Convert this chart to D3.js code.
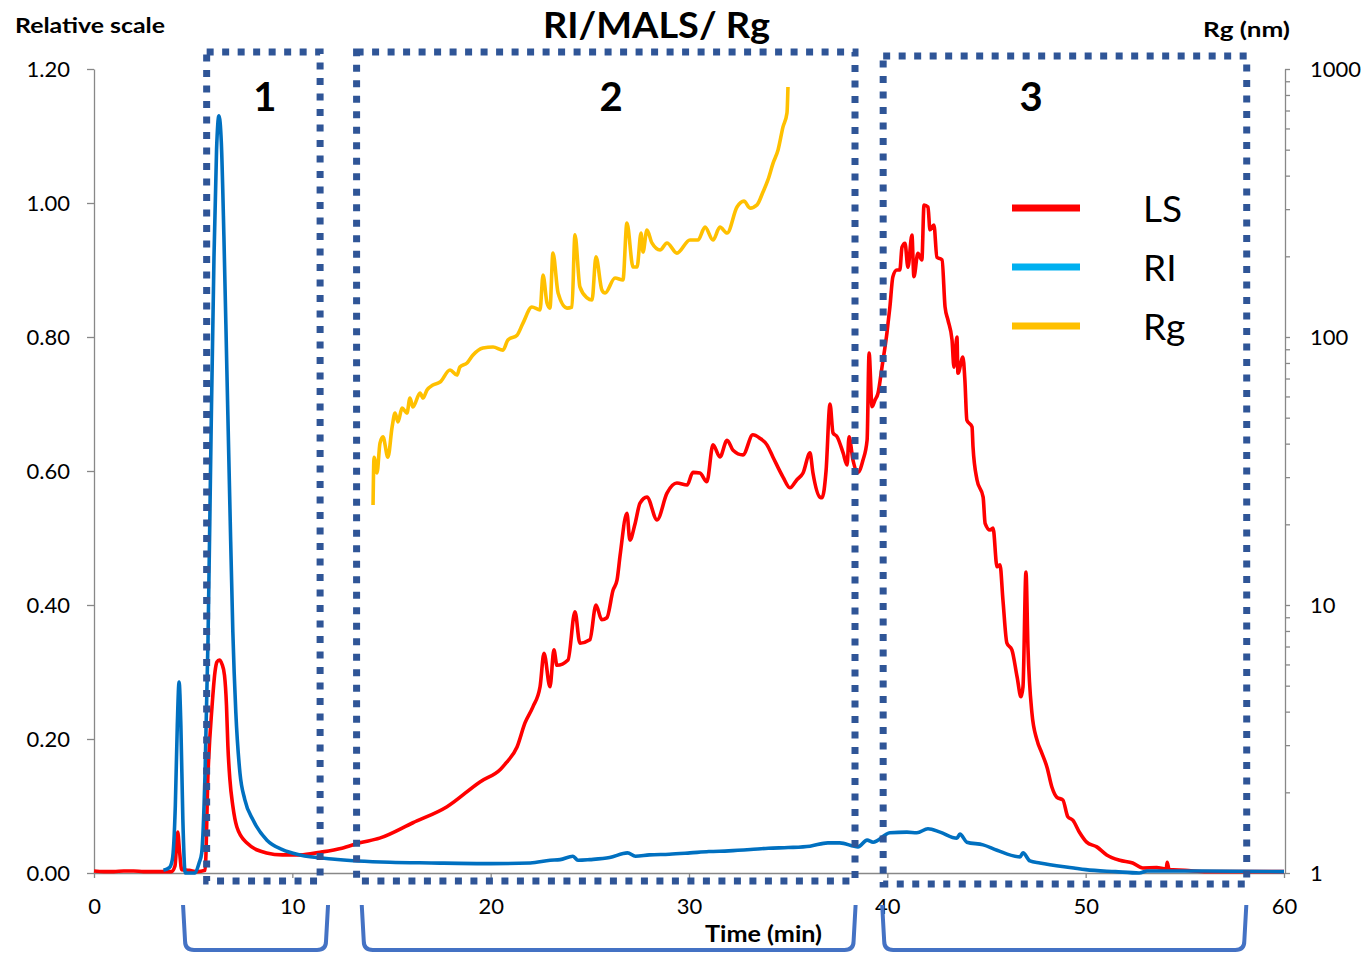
<!DOCTYPE html>
<html>
<head>
<meta charset="utf-8">
<script src="https://cdn.jsdelivr.net/npm/d3@7"></script>
<style>
  html, body { margin: 0; padding: 0; background: #fff; }
  svg { display: block; font-family: Lato, "Open Sans", "Liberation Sans", sans-serif; }
</style>
</head>
<body>
<svg id="chart" width="1365" height="953"></svg>
<script>
// ---------- DATA ----------
const xTicks = [0, 10, 20, 30, 40, 50, 60];
const yTicksLeft = [0, 0.2, 0.4, 0.6, 0.8, 1.0, 1.2];
const yTicksRightMajor = [1, 10, 100, 1000];

const seriesNames = ["LS", "RI", "Rg"];

// LS (light scattering), time (min) and relative value
const lsTime = [0,0.5,1,1.5,2,2.5,3,3.5,3.9,4.08,4.22,4.32,4.42,4.8,5.2,5.6,5.75,5.95,6.1,6.2,6.32,6.45,6.58,6.68,6.75,6.85,7.0,7.2,7.7,8.7,9.5,10.4,11.4,12.5,13.4,14.4,16.08,17.8,19.46,20.5,20.8,21.33,21.73,22.13,22.49,22.69,22.99,23.19,23.34,23.9,24.25,24.5,25.0,25.31,25.6,25.86,26.17,26.37,26.53,26.87,27.02,27.27,27.53,27.88,28.39,28.89,29.39,29.9,30.2,30.55,30.9,31.21,31.56,31.92,32.22,32.72,33.22,33.57,33.93,34.23,34.74,35.09,35.44,35.75,36.1,36.25,36.6,36.71,36.91,37.11,37.26,37.47,37.77,37.97,38.07,38.27,38.52,38.77,38.98,39.08,39.23,39.38,39.53,39.73,39.98,40.13,40.28,40.48,40.63,40.74,40.89,41.04,41.24,41.34,41.54,41.74,41.85,42.05,42.15,42.35,42.5,42.76,42.91,43.06,43.26,43.36,43.51,43.56,43.81,43.91,44.01,44.27,44.32,44.52,44.83,44.93,45.18,45.33,45.53,45.68,45.83,46.03,46.28,46.54,46.74,46.84,46.99,47.09,47.29,47.54,47.79,48.05,48.3,48.55,48.85,49.1,49.35,49.7,50.05,50.56,51.06,51.72,52.37,52.88,53.58,54.06,54.11,54.21,55.0,56.12,57.78,60];
const lsValue = [0.003,0.002,0.002,0.003,0.003,0.002,0.002,0.002,0.002,0.01,0.061,0.03,0.005,0.004,0.002,0.004,0.149,0.248,0.30,0.315,0.318,0.312,0.295,0.25,0.19,0.14,0.1,0.069,0.045,0.03,0.027,0.027,0.031,0.037,0.045,0.052,0.075,0.099,0.136,0.155,0.165,0.188,0.224,0.248,0.278,0.328,0.278,0.333,0.310,0.318,0.39,0.343,0.348,0.40,0.378,0.381,0.422,0.437,0.475,0.537,0.497,0.52,0.552,0.561,0.527,0.567,0.582,0.579,0.598,0.597,0.584,0.639,0.621,0.646,0.631,0.624,0.654,0.649,0.639,0.621,0.591,0.575,0.587,0.597,0.627,0.597,0.561,0.56,0.60,0.70,0.657,0.651,0.627,0.609,0.651,0.616,0.598,0.616,0.646,0.776,0.696,0.706,0.716,0.755,0.806,0.845,0.890,0.9,0.9,0.934,0.94,0.904,0.952,0.890,0.925,0.915,0.997,0.994,0.960,0.967,0.919,0.915,0.845,0.825,0.796,0.755,0.80,0.746,0.770,0.736,0.676,0.666,0.636,0.587,0.561,0.522,0.512,0.515,0.457,0.46,0.407,0.343,0.333,0.293,0.263,0.278,0.449,0.337,0.239,0.199,0.179,0.158,0.128,0.113,0.109,0.084,0.079,0.06,0.046,0.039,0.027,0.019,0.015,0.0075,0.008,0.006,0.016,0.005,0.004,0.002,0.002,0.002];

// RI (refractive index)
const riTime = [3.5,3.8,3.95,4.1,4.2,4.29,4.38,4.48,4.6,5.09,5.3,5.43,5.6,5.75,5.9,6.05,6.18,6.30,6.42,6.55,6.7,6.85,7.0,7.15,7.36,7.6,8.02,8.72,9.5,10.39,12.0,14.92,17,20,22,23.0,23.5,24.15,24.4,25,26,26.9,27.3,28,29,30.05,31,32,33.1,34,35,36.1,37.0,37.6,38.52,38.98,39.28,40.13,40.99,41.49,42.05,42.66,43.51,43.66,44.01,44.83,45.53,46.69,46.84,47.19,47.69,49.4,50,51.5,52.7,53.1,55,60];
const riValue = [0.004,0.008,0.02,0.1,0.22,0.285,0.22,0.08,0.0,0.0,0.015,0.03,0.15,0.35,0.65,0.92,1.08,1.13,1.09,0.95,0.75,0.55,0.36,0.24,0.149,0.11,0.079,0.049,0.035,0.027,0.021,0.016,0.015,0.014,0.015,0.019,0.02,0.025,0.019,0.02,0.023,0.03,0.025,0.027,0.028,0.03,0.032,0.033,0.035,0.037,0.038,0.04,0.045,0.045,0.039,0.049,0.046,0.06,0.061,0.06,0.066,0.061,0.052,0.058,0.046,0.042,0.034,0.024,0.03,0.018,0.015,0.0075,0.005,0.002,0.0,0.003,0.003,0.002];

// Rg (radius of gyration, nm) - right log axis
const rgTime = [14.07,14.12,14.27,14.42,14.57,14.82,15.03,15.18,15.33,15.53,15.78,15.93,16.08,16.44,16.59,16.79,17.09,17.45,17.95,18.3,18.45,18.81,19.11,19.61,20.12,20.62,20.87,21.33,21.63,22.08,22.49,22.64,22.84,22.99,23.14,23.4,23.85,24.1,24.25,24.5,24.86,25.11,25.31,25.61,25.77,26.27,26.67,26.87,27.18,27.38,27.58,27.68,27.88,28.13,28.54,28.89,29.39,30.05,30.45,30.81,31.21,31.56,31.92,32.42,32.77,33.08,33.43,33.73,33.98,34.24,34.49,34.74,34.94,34.99];
const rgValue = [23.6,35.6,31.1,40.2,42.4,35.6,46.1,52.0,48.2,54.3,52.0,59.2,54.8,61.8,59.2,63.4,66.2,67.9,75.3,72.1,77.3,80.0,85.7,91.0,91.8,89.3,97.5,101.6,112.7,129.4,126.2,170.2,134.0,128.2,205.6,145.9,128.2,129.4,240.4,153.8,140.0,137.4,199.1,149.6,145.9,166.0,163.3,266.1,182.4,182.4,244.3,207.5,250.6,224.4,211.3,224.4,205.6,230.1,230.1,257.0,230.1,257.0,244.3,305.5,321.4,302.7,311.2,347.5,385.5,445.6,498.9,608.1,685.5,857.0];

// Fraction regions (min)
const regionLabels = ["1", "2", "3"];
const regionLabelTime = [8.62, 26.07, 47.25];
const regionStart = [5.68, 13.24, 39.79];
const regionEnd = [11.4, 38.37, 58.12];
const bracketStart = [4.49, 13.5, 39.74];
const bracketEnd = [11.8, 38.4, 58.1];

// ---------- STYLES ----------
const colLS = "#FF0000", colRI = "#0070C0", colRg = "#FFC000";
const legendColors = ["#FF0000", "#00B0F0", "#FFC000"];
const axisColor = "#888888";
const boxColor = "#2F5597";
const bracketColor = "#4472C4";

// ---------- LAYOUT ----------
const svg = d3.select("#chart");
const x = d3.scaleLinear().domain([0, 60]).range([94, 1284]);
const yL = d3.scaleLinear().domain([0, 1.2]).range([873, 69]);
const yR = d3.scaleLog().domain([1, 1000]).range([873, 69]);

// Axes
const xAxis = d3.axisBottom(x).tickValues(xTicks).tickSize(5).tickSizeOuter(0).tickPadding(20).tickFormat(d3.format("d"));
const gx = svg.append("g").attr("transform", "translate(0,873)").call(xAxis);

const yAxisL = d3.axisLeft(yL).tickValues(yTicksLeft).tickSize(7).tickSizeOuter(0).tickPadding(17).tickFormat(d3.format(".2f"));
const gyl = svg.append("g").attr("transform", "translate(94,0)").call(yAxisL);

const minorR = [];
yTicksRightMajor.forEach((m, i) => {
  if (i < yTicksRightMajor.length - 1) for (let k = 1; k < 10; k++) minorR.push(m * k);
});
minorR.push(1000);
const yAxisR = d3.axisRight(yR).tickValues(minorR).tickSize(5).tickSizeOuter(0).tickPadding(20)
  .tickFormat(d => yTicksRightMajor.includes(d) ? String(d) : "");
const gyr = svg.append("g").attr("transform", "translate(1285,0)").call(yAxisR);

[gx, gyl, gyr].forEach(g => {
  g.selectAll("path.domain").attr("stroke", axisColor).attr("stroke-width", 1.3);
  g.selectAll(".tick line").attr("stroke", axisColor).attr("stroke-width", 1.3);
  g.selectAll(".tick text").attr("fill", "#000").style("font-size", "22px")
    .style("font-family", "Lato, 'Open Sans', sans-serif");
});
gyl.selectAll(".tick text").attr("dy", "0.36em");
gyr.selectAll(".tick text").attr("dy", "0.36em");

// Series
const lineL = d3.line().x(d => x(d[0])).y(d => yL(d[1])).curve(d3.curveMonotoneX);
const lineR = d3.line().x(d => x(d[0])).y(d => yR(d[1])).curve(d3.curveMonotoneX);

const riData = riTime.map((t, i) => [t, riValue[i]]);
const lsData = lsTime.map((t, i) => [t, lsValue[i]]);
const rgData = rgTime.map((t, i) => [t, rgValue[i]]);

svg.append("path").datum(lsData).attr("d", lineL).attr("fill", "none")
  .attr("stroke", colLS).attr("stroke-width", 3.6).attr("stroke-linejoin", "round");
svg.append("path").datum(riData).attr("d", lineL).attr("fill", "none")
  .attr("stroke", colRI).attr("stroke-width", 3.6).attr("stroke-linejoin", "round");
svg.append("path").datum(rgData).attr("d", lineR).attr("fill", "none")
  .attr("stroke", colRg).attr("stroke-width", 3.6).attr("stroke-linejoin", "round");

// Dotted region boxes
const boxTop = [52, 52, 56], boxBottom = [881, 881, 884];
regionLabels.forEach((lab, i) => {
  const x0 = x(regionStart[i]), x1 = x(regionEnd[i]);
  svg.append("rect")
    .attr("x", x0).attr("y", boxTop[i])
    .attr("width", x1 - x0).attr("height", boxBottom[i] - boxTop[i])
    .attr("fill", "none").attr("stroke", boxColor).attr("stroke-width", 7)
    .attr("stroke-dasharray", "7 8.5");
  svg.append("text").text(lab)
    .attr("x", x(regionLabelTime[i])).attr("y", 111)
    .attr("text-anchor", "middle").style("font-size", "40px").style("font-weight", "bold")
    .attr("fill", "#000");
});

// Brackets below axis
regionLabels.forEach((lab, i) => {
  const a = x(bracketStart[i]), b = x(bracketEnd[i]);
  const top = 905, bot = 950, r = 9;
  const p = d3.path();
  p.moveTo(a, top);
  p.lineTo(a + 2, bot - r);
  p.quadraticCurveTo(a + 2, bot, a + 2 + r, bot);
  p.lineTo(b - 2 - r, bot);
  p.quadraticCurveTo(b - 2, bot, b - 2, bot - r);
  p.lineTo(b, top);
  svg.append("path").attr("d", p.toString()).attr("fill", "none")
    .attr("stroke", bracketColor).attr("stroke-width", 4);
});

// Legend
seriesNames.forEach((name, i) => {
  const ly = 208 + i * 59;
  svg.append("line").attr("x1", 1012).attr("x2", 1080).attr("y1", ly).attr("y2", ly)
    .attr("stroke", legendColors[i]).attr("stroke-width", 7);
  svg.append("text").text(name).attr("x", 1143).attr("y", ly + 14)
    .style("font-size", "37px").attr("fill", "#000");
});

// Titles
function title(txt, xx, yy, size, len, anchor) {
  svg.append("text").text(txt).attr("x", xx).attr("y", yy)
    .attr("text-anchor", anchor).style("font-size", size + "px").style("font-weight", "bold")
    .attr("textLength", len).attr("lengthAdjust", "spacingAndGlyphs");
}
title("RI/MALS/ Rg", 543, 38, 36, 227, "start");
title("Relative scale", 15, 33, 21, 150, "start");
title("Rg (nm)", 1203, 37, 21, 87, "start");
title("Time (min)", 705, 942, 23, 117, "start");
</script>
</body>
</html>
